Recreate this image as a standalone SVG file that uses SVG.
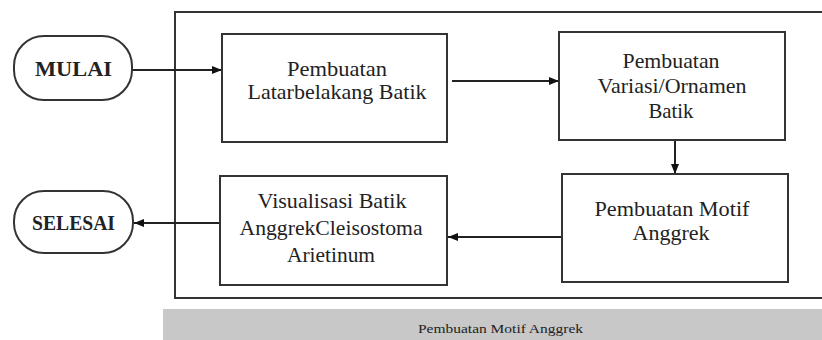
<svg xmlns="http://www.w3.org/2000/svg" width="822" height="340" viewBox="0 0 822 340">
<style>
.box{fill:#fff;stroke:#333;stroke-width:2}
.t{font-family:"Liberation Serif","Times New Roman","DejaVu Serif","Noto Serif",serif;font-size:21px;fill:#222;text-anchor:middle}
.b{font-weight:bold;font-size:21px}
.cap{font-family:"Liberation Serif","Times New Roman","DejaVu Serif","Noto Serif",serif;font-size:13px;fill:#222}
.c{stroke:#222;stroke-width:2;fill:none;marker-end:url(#ah)}
</style>
<defs>
<marker id="ah" viewBox="0 0 10 10" refX="10" refY="5" markerWidth="10" markerHeight="10" markerUnits="userSpaceOnUse" orient="auto">
<path d="M0,1 L10,5 L0,9 Z" fill="#111"/>
</marker>
</defs>
<rect width="822" height="340" fill="#fff"/>
<g id="frame">
<path d="M823,12 H175 V298 H823" fill="none" stroke="#333" stroke-width="2"/>
</g>
<g id="caption">
<rect x="163" y="309" width="660" height="31" fill="#c8c8c8"/>
<text class="cap" x="418" y="333" textLength="165" lengthAdjust="spacingAndGlyphs">Pembuatan Motif Anggrek</text>
</g>
<g id="connectors">
<line class="c" x1="132" y1="70" x2="222" y2="70"/>
<line class="c" x1="452" y1="81" x2="559" y2="81"/>
<line class="c" x1="675" y1="141" x2="675" y2="174"/>
<line class="c" x1="562" y1="237" x2="448" y2="237"/>
<line class="c" x1="220" y1="223" x2="134" y2="223"/>
</g>
<g id="mulai">
<rect class="box" x="14" y="36" width="118" height="64" rx="30"/>
<text class="t b" x="73.5" y="76" textLength="77" lengthAdjust="spacingAndGlyphs">MULAI</text>
</g>
<g id="box1">
<rect class="box" x="222" y="34" width="225" height="108"/>
<text class="t" x="337" y="76" textLength="100" lengthAdjust="spacingAndGlyphs">Pembuatan</text>
<text class="t" x="337" y="99" textLength="179" lengthAdjust="spacingAndGlyphs">Latarbelakang Batik</text>
</g>
<g id="box2">
<rect class="box" x="559" y="32" width="226" height="108"/>
<text class="t" x="671" y="68" textLength="97" lengthAdjust="spacingAndGlyphs">Pembuatan</text>
<text class="t" x="672" y="93" textLength="149" lengthAdjust="spacingAndGlyphs">Variasi/Ornamen</text>
<text class="t" x="671" y="118" textLength="45" lengthAdjust="spacingAndGlyphs">Batik</text>
</g>
<g id="box3">
<rect class="box" x="562" y="174" width="226" height="108"/>
<text class="t" x="672" y="216" textLength="155" lengthAdjust="spacingAndGlyphs">Pembuatan Motif</text>
<text class="t" x="671" y="240" textLength="77" lengthAdjust="spacingAndGlyphs">Anggrek</text>
</g>
<g id="box4">
<rect class="box" x="220" y="176" width="227" height="109"/>
<text class="t" x="332" y="208" textLength="149" lengthAdjust="spacingAndGlyphs">Visualisasi Batik</text>
<text class="t" x="331" y="235" textLength="183" lengthAdjust="spacingAndGlyphs">AnggrekCleisostoma</text>
<text class="t" x="331" y="262" textLength="88" lengthAdjust="spacingAndGlyphs">Arietinum</text>
</g>
<g id="selesai">
<rect class="box" x="14" y="191" width="119" height="62" rx="30"/>
<text class="t b" x="73.5" y="230" textLength="83" lengthAdjust="spacingAndGlyphs">SELESAI</text>
</g>
</svg>
